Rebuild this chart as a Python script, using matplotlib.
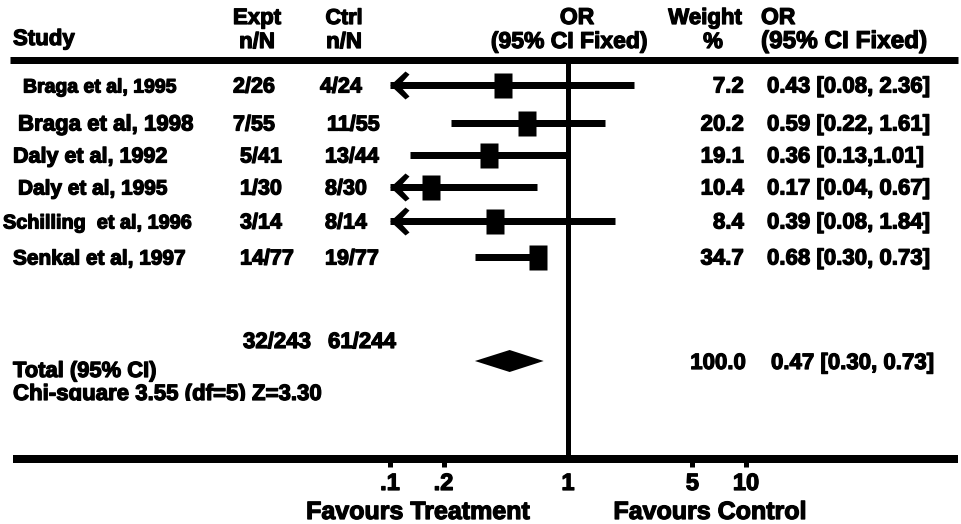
import matplotlib
matplotlib.use("Agg")
import matplotlib.pyplot as plt
import matplotlib.patheffects as pe
from matplotlib.transforms import Bbox, TransformedBbox

# ---- data -------------------------------------------------------------
studies = ["Braga et al, 1995", "Braga et al, 1998", "Daly et al, 1992",
           "Daly et al, 1995", "Schilling  et al, 1996", "Senkal et al, 1997"]
expt = ["2/26", "7/55", "5/41", "1/30", "3/14", "14/77"]
ctrl = ["4/24", "11/55", "13/44", "8/30", "8/14", "19/77"]
odds_ratio = [0.43, 0.59, 0.36, 0.17, 0.39, 0.68]
ci_low = [0.08, 0.22, 0.13, 0.04, 0.08, 0.30]
ci_high = [2.36, 1.61, 1.01, 0.67, 1.84, 0.73]
weight = [7.2, 20.2, 19.1, 10.4, 8.4, 34.7]
ci_text = ["0.43 [0.08, 2.36]", "0.59 [0.22, 1.61]", "0.36 [0.13,1.01]",
           "0.17 [0.04, 0.67]", "0.39 [0.08, 1.84]", "0.68 [0.30, 0.73]"]

total_expt = "32/243"
total_ctrl = "61/244"
total_or = 0.47
total_low = 0.30
total_high = 0.73
total_weight = 100.0
total_text = "0.47 [0.30, 0.73]"
het_text = "Chi-square 3.55 (df=5) Z=3.30"

tick_values = [0.1, 0.2, 1, 5, 10]
tick_labels = [".1", ".2", "1", "5", "10"]
axis_min, axis_max = 0.1, 10

# ---- layout (pixel units, y grows downward) ---------------------------
W, H = 962, 524
row_y = [85, 123, 155, 187, 221, 257]
name_x = [23, 18, 13, 18, 3, 13]
name_size = [14, 16, 15.5, 15, 14.3, 15]
expt_x = [233, 233, 240, 240, 240, 240]
ctrl_x = [320, 327, 325, 325, 325, 325]
fs = 15.5
one_px = 568          # where OR = 1 sits
decade_px = 178       # pixels per decade on the log axis

plt.rcParams["font.family"] = ["Liberation Sans", "DejaVu Sans"]
plt.rcParams["font.weight"] = "bold"

fig = plt.figure(figsize=(W / 100, H / 100), dpi=100)

# Text layer in pixel coordinates
ax = fig.add_axes([0, 0, 1, 1])
ax.set_xlim(0, W)
ax.set_ylim(H, 0)
ax.axis("off")

# Forest layer: log x spanning .1 .. 10, same vertical pixel coordinates
left_px = one_px - decade_px
fx = fig.add_axes([left_px / W, 0, 2 * decade_px / W, 1])
fx.set_xscale("log")
fx.set_xlim(axis_min, axis_max)
fx.set_ylim(H, 0)
fx.axis("off")

px = 72 / 100  # points per pixel
heavy = [pe.withStroke(linewidth=0.9, foreground="black")]


def t(x, y, s, size=fs, ha="left", target=None, **kw):
    target = ax if target is None else target
    return target.text(x, y, s, fontsize=size, ha=ha, va="baseline",
                       fontweight="bold", color="black",
                       path_effects=heavy, **kw)


# headers
t(13, 45, "Study", size=16)
t(257, 24, "Expt", ha="center", size=16)
t(257, 48, "n/N", ha="center", size=16)
t(344, 24, "Ctrl", ha="center", size=15.5)
t(344, 48, "n/N", ha="center", size=16)
t(577, 24, "OR", ha="center", size=16.5)
t(647, 48, "(95% CI Fixed)", ha="right", size=16.5)
t(705, 24, "Weight", ha="center", size=16)
t(713, 48, "%", ha="center", size=16)
t(761, 24, "OR", size=16.5)
t(761, 48, "(95% CI Fixed)", size=17.5)

# horizontal rules
ax.plot([10, 958], [60, 60], color="black", lw=7 * px, solid_capstyle="butt")
ax.plot([13, 958], [459, 459], color="black", lw=8 * px, solid_capstyle="butt")

# line of no effect
fx.plot([1, 1], [60, 459], color="black", lw=5 * px, solid_capstyle="butt",
        clip_on=False, zorder=3)

# study rows
box = [(-0.36, -0.5), (0.36, -0.5), (0.36, 0.5), (-0.36, 0.5), (-0.36, -0.5)]
head = [(0, 0), (15, 14), (19, 11), (9, 0), (19, -11), (15, -14), (0, 0)]
for i, y in enumerate(row_y):
    base = y + 7.5
    t(name_x[i], base, studies[i], size=name_size[i])
    t(expt_x[i], base, expt[i])
    t(ctrl_x[i], base, ctrl[i])
    t(744, base, f"{weight[i]:.1f}", ha="right", size=16)
    t(767, base, ci_text[i], size=16)

    lo = max(ci_low[i], axis_min)
    hi = min(ci_high[i], axis_max)
    fx.plot([lo, hi], [y, y], color="black", lw=7 * px,
            solid_capstyle="butt", clip_on=False, zorder=4)
    if ci_low[i] < axis_min:
        fx.plot([axis_min], [y], marker=head, ms=2 * 19 * px,
                color="black", mec="none", clip_on=False, zorder=5)
    fx.plot([odds_ratio[i]], [y], marker=box, ms=25 * px, color="black",
            mec="none", clip_on=False, zorder=5)

# pooled estimate
t(243, 348, total_expt, size=16)
t(328, 348, total_ctrl, size=16)
t(13, 377, "Total (95% CI)", size=15.8)
t(746, 369, f"{total_weight:.1f}", ha="right", size=16)
t(771, 369, total_text, size=16)
het = t(13, 400, het_text, size=16)
het.set_clip_box(TransformedBbox(Bbox([[0, 0], [W, 401]]), ax.transData))
het.set_clip_on(True)

dy = 11
fx.fill([total_low, total_or, total_high, total_or],
        [361, 361 - dy, 361, 361 + dy], color="black", lw=0,
        clip_on=False, zorder=5)

# axis ticks and labels
for v, lab in zip(tick_values, tick_labels):
    if v != 1:
        fx.plot([v, v], [459, 467], color="black", lw=5 * px,
                solid_capstyle="butt", clip_on=False)
    t(v, 490, lab, size=17, ha="center", target=fx)

t(418, 519, "Favours Treatment", size=18, ha="center")
t(710, 519, "Favours Control", size=18, ha="center")

fig.savefig("out.png", dpi=100, facecolor="white")
